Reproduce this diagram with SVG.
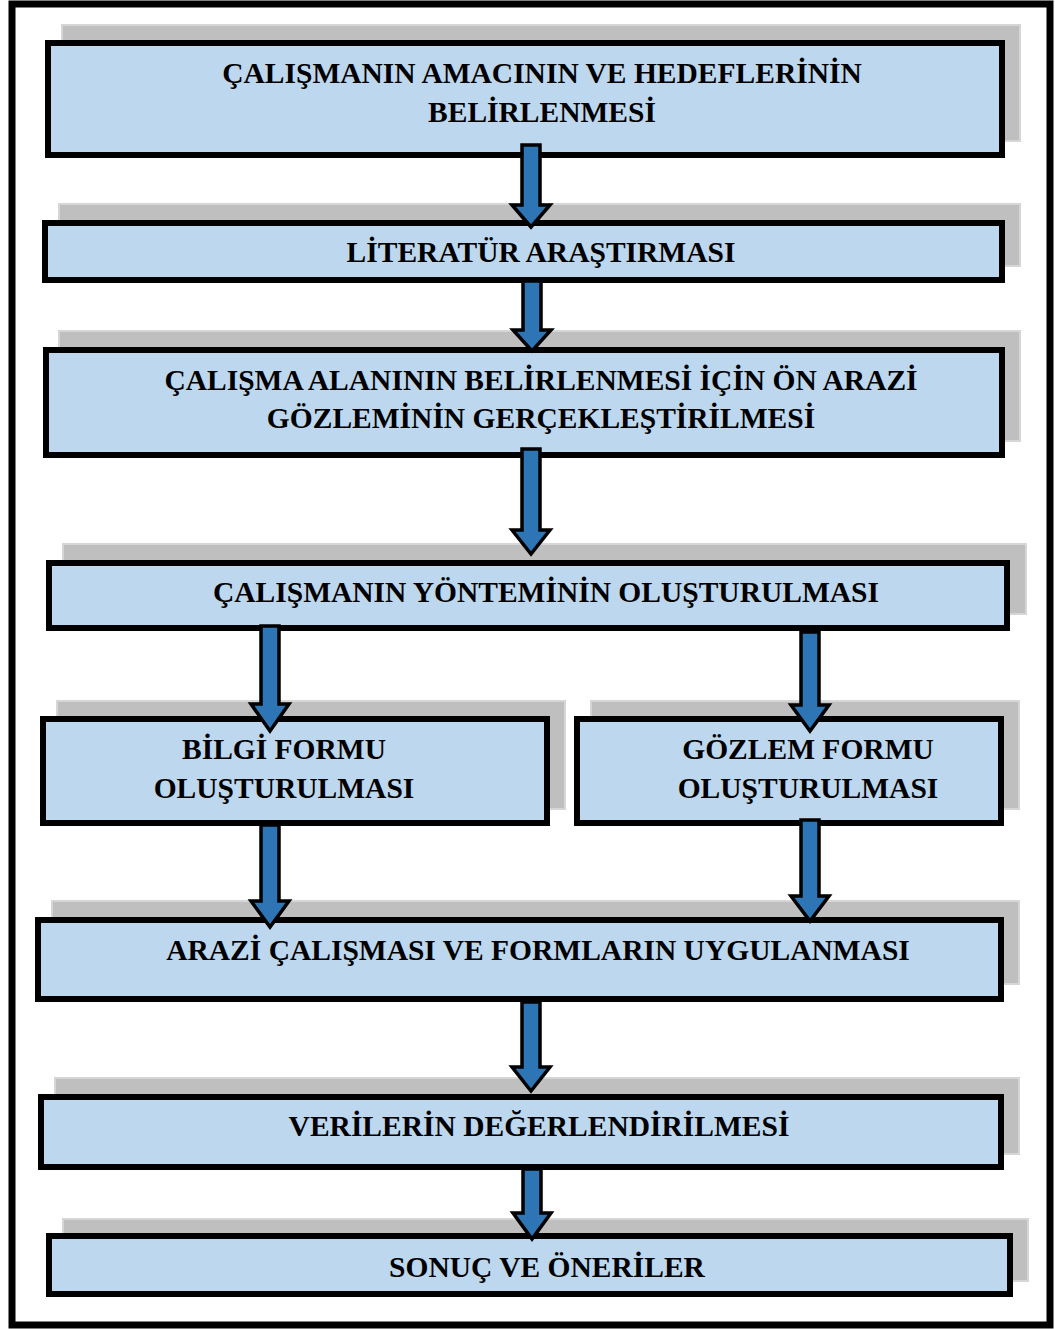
<svg xmlns="http://www.w3.org/2000/svg" width="1055" height="1329" viewBox="0 0 1055 1329">
<style>
.frame{fill:#fff;stroke:#000;stroke-width:7}
.sh{fill:#bfbfbf;stroke:#d6d6d6;stroke-width:2}
.box{fill:#bdd7ee;stroke:#000;stroke-width:6}
.t{font-family:"Liberation Serif","Times New Roman",serif;font-weight:bold;font-size:29.5px;fill:#000;text-anchor:middle}
.ar{fill:#2e75b6;stroke:#000;stroke-width:3.5;stroke-linejoin:miter}
</style>
<rect class="frame" x="12" y="4" width="1038" height="1321"/>
<g id="n1">
<rect class="sh" x="62" y="25" width="958" height="116"/>
<rect class="box" x="48" y="43" width="954" height="112"/>
<text class="t" x="542" y="83">ÇALIŞMANIN AMACININ VE HEDEFLERİNİN</text>
<text class="t" x="542" y="122">BELİRLENMESİ</text>
</g>
<g id="n2">
<rect class="sh" x="59" y="204" width="961" height="62"/>
<rect class="box" x="45" y="223" width="957" height="57"/>
<text class="t" x="541" y="262">LİTERATÜR ARAŞTIRMASI</text>
</g>
<g id="n3">
<rect class="sh" x="59" y="331" width="961" height="110"/>
<rect class="box" x="46" y="350" width="956" height="105"/>
<text class="t" x="541" y="390">ÇALIŞMA ALANININ BELİRLENMESİ İÇİN ÖN ARAZİ</text>
<text class="t" x="541" y="428">GÖZLEMİNİN GERÇEKLEŞTİRİLMESİ</text>
</g>
<g id="n4">
<rect class="sh" x="63" y="544" width="963" height="70"/>
<rect class="box" x="49" y="563" width="958" height="65"/>
<text class="t" x="546" y="602">ÇALIŞMANIN YÖNTEMİNİN OLUŞTURULMASI</text>
</g>
<g id="n5">
<rect class="sh" x="57" y="701" width="508" height="108"/>
<rect class="box" x="43" y="719" width="504" height="104"/>
<text class="t" x="284" y="759">BİLGİ FORMU</text>
<text class="t" x="284" y="798">OLUŞTURULMASI</text>
</g>
<g id="n6">
<rect class="sh" x="591" y="701" width="428" height="108"/>
<rect class="box" x="577" y="719" width="424" height="104"/>
<text class="t" x="808" y="759">GÖZLEM FORMU</text>
<text class="t" x="808" y="798">OLUŞTURULMASI</text>
</g>
<g id="n7">
<rect class="sh" x="52" y="901" width="967" height="83"/>
<rect class="box" x="38" y="920" width="963" height="79"/>
<text class="t" x="538" y="960">ARAZİ ÇALIŞMASI VE FORMLARIN UYGULANMASI</text>
</g>
<g id="n8">
<rect class="sh" x="55" y="1078" width="964" height="76"/>
<rect class="box" x="41" y="1097" width="960" height="70"/>
<text class="t" x="539" y="1136">VERİLERİN DEĞERLENDİRİLMESİ</text>
</g>
<g id="n9">
<rect class="sh" x="63" y="1219" width="965" height="62"/>
<rect class="box" x="49" y="1236" width="961" height="58"/>
<text class="t" x="547" y="1277">SONUÇ VE ÖNERİLER</text>
</g>
<g id="connectors">
<path class="ar" d="M522,145 H540 V205 H550 L531,227 L512,205 H522 Z"/>
<path class="ar" d="M523,281 H541 V330 H551 L532,351 L513,330 H523 Z"/>
<path class="ar" d="M522,449 H540 V530 H550 L531,554 L512,530 H522 Z"/>
<path class="ar" d="M261,626 H279 V704 H289 L270,731 L251,704 H261 Z"/>
<path class="ar" d="M801,632 H819 V705 H829 L810,731 L791,705 H801 Z"/>
<path class="ar" d="M261,825 H279 V901 H289 L270,927 L251,901 H261 Z"/>
<path class="ar" d="M801,820 H819 V896 H829 L810,921 L791,896 H801 Z"/>
<path class="ar" d="M522,1002 H540 V1067 H550 L531,1091 L512,1067 H522 Z"/>
<path class="ar" d="M523,1169 H541 V1213 H551 L532,1239 L513,1213 H523 Z"/>
</g>
</svg>
